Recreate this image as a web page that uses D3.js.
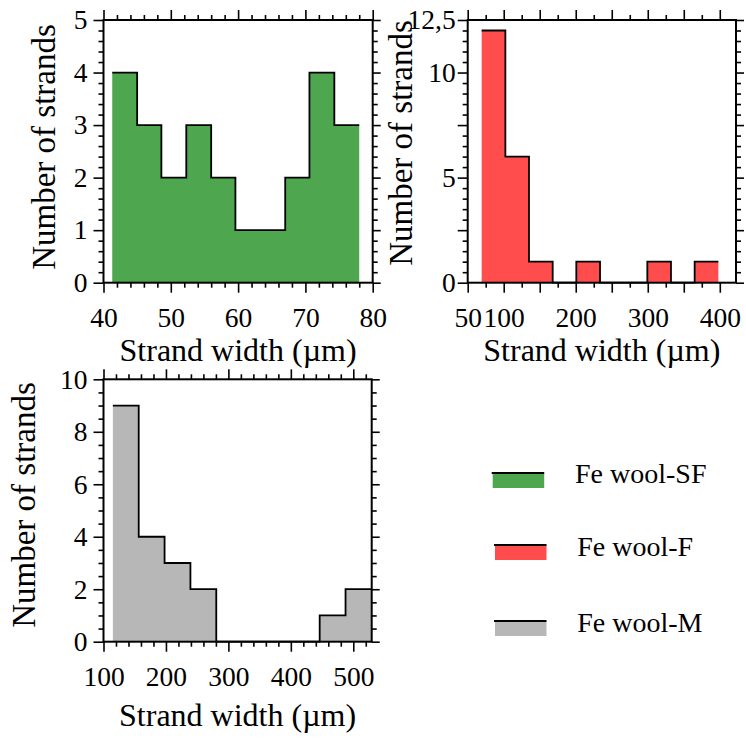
<!DOCTYPE html>
<html>
<head>
<meta charset="utf-8">
<script src="https://cdn.jsdelivr.net/npm/d3@7/dist/d3.min.js"></script>
<style>
  html, body { margin: 0; padding: 0; background: #fff; }
  svg { display: block; }
  text { font-family: "Liberation Serif", "Times New Roman", serif; fill: #000; }
</style>
</head>
<body>
<svg id="chart" width="746" height="738"></svg>
<script>
// ---------------- data ----------------
const seriesNames = ["Fe wool-SF", "Fe wool-F", "Fe wool-M"];
const seriesColors = ["#4ea64e", "#ff4d4d", "#b7b7b7"];

// Fe wool-SF histogram (bin edges in µm, counts)
const sfEdges = [41.3, 45.0, 48.6, 52.3, 56.0, 59.6, 63.3, 67.0, 70.6, 74.3, 78.0];
const sfCounts = [4, 3, 2, 3, 2, 1, 1, 2, 4, 3];

// Fe wool-F histogram
const fEdges = [69.4, 102.3, 135.1, 168.0, 200.8, 233.7, 266.5, 299.4, 332.2, 365.1, 398.0];
const fCounts = [12, 6, 1, 0, 1, 0, 0, 1, 0, 1];

// Fe wool-M histogram
const mEdges = [115.0, 156.4, 197.8, 239.2, 280.6, 322.0, 363.4, 404.8, 446.2, 487.6, 529.5];
const mCounts = [9, 4, 3, 2, 0, 0, 0, 0, 1, 2];

// axis tick values
const sfXMajor = [40, 50, 60, 70, 80];
const sfXMinor = [42, 44, 46, 48, 52, 54, 56, 58, 62, 64, 66, 68, 72, 74, 76, 78];
const sfYMajor = [0, 1, 2, 3, 4, 5];
const sfYMinor = [0.2, 0.4, 0.6, 0.8, 1.2, 1.4, 1.6, 1.8, 2.2, 2.4, 2.6, 2.8, 3.2, 3.4, 3.6, 3.8, 4.2, 4.4, 4.6, 4.8];

const fXMajor = [50, 100, 150, 200, 250, 300, 350, 400];
const fXMinor = [75, 125, 175, 225, 275, 325, 375];
const fXLabels = [50, 100, 200, 300, 400];
const fYMajor = [0, 2.5, 5, 7.5, 10, 12.5];
const fYMinor = [0.5, 1, 1.5, 2, 3, 3.5, 4, 4.5, 5.5, 6, 6.5, 7, 8, 8.5, 9, 9.5, 10.5, 11, 11.5, 12];
const fYLabels = [0, 5, 10, 12.5];

const mXMajor = [100, 200, 300, 400, 500];
const mXMinor = [120, 140, 160, 180, 220, 240, 260, 280, 320, 340, 360, 380, 420, 440, 460, 480, 520];
const mYMajor = [0, 2, 4, 6, 8, 10];
const mYMinor = [0.5, 1, 1.5, 2.5, 3, 3.5, 4.5, 5, 5.5, 6.5, 7, 7.5, 8.5, 9, 9.5];

const xTitle = "Strand width (\u00b5m)";
const yTitle = "Number of strands";

// ---------------- drawing ----------------
const svg = d3.select("#chart");
svg.append("rect").attr("width", 746).attr("height", 738).attr("fill", "#fff");

const fmt = v => String(v).replace(".", ",");

function panel(cfg) {
  const g = svg.append("g");
  const x = d3.scaleLinear().domain(cfg.xDomain).range([cfg.left, cfg.right]);
  const y = d3.scaleLinear().domain(cfg.yDomain).range([cfg.bottom, cfg.top]);

  // histogram points (step after)
  const pts = cfg.counts.map((c, i) => [cfg.edges[i], c]);
  pts.push([cfg.edges[cfg.edges.length - 1], cfg.counts[cfg.counts.length - 1]]);

  const area = d3.area().x(d => x(d[0])).y0(y(0)).y1(d => y(d[1])).curve(d3.curveStepAfter);
  const line = d3.line().x(d => x(d[0])).y(d => y(d[1])).curve(d3.curveStepAfter);

  g.append("path").attr("d", area(pts)).attr("fill", cfg.color).attr("stroke", "none");
  g.append("path").attr("d", line(pts)).attr("fill", "none").attr("stroke", "#000")
    .attr("stroke-width", 1.8).attr("stroke-linejoin", "miter");

  function axisGroup(axis, tx, ty) {
    const a = g.append("g").attr("transform", `translate(${tx},${ty})`).call(axis);
    a.select(".domain").remove();
    a.selectAll(".tick line").attr("stroke", "#000").attr("stroke-width", 1.6);
    a.selectAll("text").style("font-size", "27.5px")
      .style("font-family", '"Liberation Serif", "Times New Roman", serif').attr("fill", "#000");
    return a;
  }
  const none = () => "";
  const labelIf = list => v => list.some(l => Math.abs(l - v) < 1e-9) ? fmt(v) : "";

  // bottom
  axisGroup(d3.axisBottom(x).tickValues(cfg.xMinor).tickSize(5).tickFormat(none), 0, cfg.bottom);
  axisGroup(d3.axisBottom(x).tickValues(cfg.xMajor).tickSize(10).tickPadding(14.5)
    .tickFormat(labelIf(cfg.xLabels || cfg.xMajor)), 0, cfg.bottom);
  // top
  axisGroup(d3.axisTop(x).tickValues(cfg.xMinor).tickSize(5).tickFormat(none), 0, cfg.top);
  axisGroup(d3.axisTop(x).tickValues(cfg.xMajor).tickSize(10).tickFormat(none), 0, cfg.top);
  // left
  axisGroup(d3.axisLeft(y).tickValues(cfg.yMinor).tickSize(5).tickFormat(none), cfg.left, 0);
  axisGroup(d3.axisLeft(y).tickValues(cfg.yMajor).tickSize(10).tickPadding(cfg.yPad)
    .tickFormat(labelIf(cfg.yLabels || cfg.yMajor)), cfg.left, 0);
  // right
  axisGroup(d3.axisRight(y).tickValues(cfg.yMinor).tickSize(5).tickFormat(none), cfg.right, 0);
  axisGroup(d3.axisRight(y).tickValues(cfg.yMajor).tickSize(8).tickFormat(none), cfg.right, 0);

  // frame
  g.append("rect").attr("x", cfg.left).attr("y", cfg.top)
    .attr("width", cfg.right - cfg.left).attr("height", cfg.bottom - cfg.top)
    .attr("fill", "none").attr("stroke", "#000").attr("stroke-width", 2);

  // titles
  g.append("text").attr("x", (cfg.left + cfg.right) / 2).attr("y", cfg.xTitleY)
    .attr("text-anchor", "middle").style("font-size", "32px").text(xTitle);
  g.append("text").attr("transform", `translate(${cfg.yTitleX},${cfg.yTitleC}) rotate(-90)`)
    .attr("text-anchor", "middle").style("font-size", "33px").text(yTitle);
}

panel({
  left: 103.5, right: 372.7, top: 20, bottom: 282.7,
  xDomain: [40, 80], yDomain: [0, 5],
  edges: sfEdges, counts: sfCounts, color: seriesColors[0],
  xMajor: sfXMajor, xMinor: sfXMinor, yMajor: sfYMajor, yMinor: sfYMinor,
  yPad: 6, xTitleY: 361, yTitleX: 55, yTitleC: 147
});

panel({
  left: 467.7, right: 736, top: 20, bottom: 282.7,
  xDomain: [50, 422.5], yDomain: [0, 12.5],
  edges: fEdges, counts: fCounts, color: seriesColors[1],
  xMajor: fXMajor, xMinor: fXMinor, xLabels: fXLabels,
  yMajor: fYMajor, yMinor: fYMinor, yLabels: fYLabels,
  yPad: 2, xTitleY: 361, yTitleX: 412, yTitleC: 143
});

panel({
  left: 103.5, right: 371.7, top: 379.3, bottom: 641.7,
  xDomain: [100, 529.5], yDomain: [0, 10],
  edges: mEdges, counts: mCounts, color: seriesColors[2],
  xMajor: mXMajor, xMinor: mXMinor, yMajor: mYMajor, yMinor: mYMinor,
  yPad: 6, xTitleY: 726, yTitleX: 35, yTitleC: 505
});

// ---------------- legend ----------------
const legendRows = [
  { patchX: 492.7, patchY: 473, textX: 575, textY: 483.3 },
  { patchX: 495, patchY: 545, textX: 577.3, textY: 556 },
  { patchX: 495, patchY: 621, textX: 577.3, textY: 631.7 }
];
const lg = svg.append("g");
seriesNames.forEach((name, i) => {
  const r = legendRows[i];
  lg.append("rect").attr("x", r.patchX).attr("y", r.patchY).attr("width", 51.5).attr("height", 15)
    .attr("fill", seriesColors[i]);
  lg.append("line").attr("x1", r.patchX - 1).attr("x2", r.patchX + 51.5)
    .attr("y1", r.patchY).attr("y2", r.patchY).attr("stroke", "#000").attr("stroke-width", 2);
  lg.append("text").attr("x", r.textX).attr("y", r.textY).style("font-size", "28px").text(name);
});
</script>
</body>
</html>
